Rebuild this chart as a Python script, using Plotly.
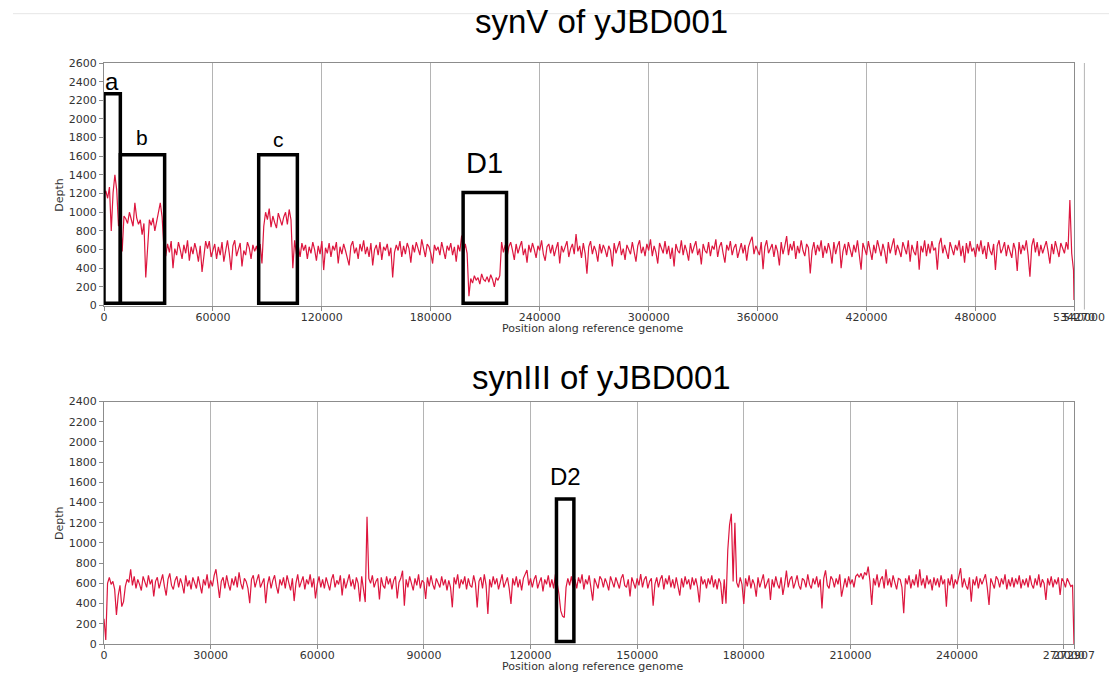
import plotly.graph_objects as go

# Chromosome lengths and coverage bin sizes (bp)
SYNV_LENGTH = 534270
SYNIII_LENGTH = 272907
SYNV_BIN = 1000
SYNIII_BIN = 500

# synV read depth, one value per 1 kb bin; last value is the chromosome end
synv_depth = [
    1180, 1230, 1150, 1270, 800, 1210, 1400, 1240, 850, 980,      # 0 kb
    580, 960, 930, 880, 1000, 920, 850, 1100, 940, 870,           # 10 kb
    920, 760, 880, 300, 650, 920, 860, 940, 800, 900,             # 20 kb
    1000, 1100, 950, 620, 530, 660, 570, 690, 400, 610,           # 30 kb
    540, 680, 600, 500, 650, 560, 700, 480, 630, 550,             # 40 kb
    670, 590, 470, 640, 360, 560, 690, 610, 690, 520,             # 50 kb
    600, 660, 500, 630, 540, 680, 470, 590, 700, 560,             # 60 kb
    380, 640, 700, 530, 610, 670, 420, 590, 540, 680,             # 70 kb
    620, 500, 650, 580, 640, 540, 660, 450, 850, 1000,            # 80 kb
    920, 1040, 840, 960, 890, 830, 990, 910, 860, 950,            # 90 kb
    1000, 870, 1030, 920, 400, 700, 550, 640, 520, 670,           # 100 kb
    590, 650, 500, 630, 560, 680, 600, 480, 640, 550,             # 110 kb
    690, 380, 620, 560, 670, 520, 640, 590, 680, 450,             # 120 kb
    630, 550, 660, 590, 510, 430, 640, 690, 560, 620,             # 130 kb
    500, 660, 580, 700, 550, 630, 520, 670, 430, 600,             # 140 kb
    650, 540, 680, 490, 630, 590, 660, 530, 620, 300,             # 150 kb
    570, 650, 590, 690, 520, 640, 550, 670, 610, 460,             # 160 kb
    650, 570, 680, 600, 540, 710, 590, 520, 660, 630,             # 170 kb
    560, 450, 650, 590, 630, 540, 680, 600, 500, 640,             # 180 kb
    590, 670, 540, 630, 470, 650, 580, 750, 560, 660,             # 190 kb
    560, 100, 290, 240, 320, 270, 300, 230, 340, 280,             # 200 kb
    260, 310, 250, 330, 280, 200, 300, 270, 320, 680,             # 210 kb
    570, 650, 520, 630, 680, 590, 490, 660, 560, 630,             # 220 kb
    690, 540, 610, 460, 650, 570, 670, 600, 510, 640,             # 230 kb
    590, 700, 550, 480, 630, 660, 560, 650, 530, 610,             # 240 kb
    680, 450, 640, 570, 630, 690, 520, 610, 660, 550,             # 250 kb
    767, 580, 640, 510, 670, 560, 340, 630, 690, 550,             # 260 kb
    640, 580, 470, 660, 560, 650, 600, 520, 640, 590,             # 270 kb
    418, 670, 560, 630, 690, 540, 610, 490, 650, 600,             # 280 kb
    550, 680, 590, 470, 640, 700, 560, 630, 530, 660,             # 290 kb
    590, 710, 530, 640, 570, 450, 670, 600, 560, 690,             # 300 kb
    550, 640, 500, 620, 418, 660, 590, 560, 700, 540,             # 310 kb
    650, 580, 480, 670, 560, 630, 690, 540, 610, 440,             # 320 kb
    660, 590, 560, 680, 530, 640, 600, 710, 520, 630,             # 330 kb
    680, 560, 460, 650, 590, 690, 540, 620, 660, 510,             # 340 kb
    610, 670, 560, 650, 480, 630, 690, 738, 550, 640,             # 350 kb
    590, 540, 680, 390, 630, 700, 560, 610, 660, 520,             # 360 kb
    650, 580, 430, 680, 550, 640, 745, 540, 660, 590,             # 370 kb
    690, 500, 640, 560, 700, 590, 530, 660, 620, 345,             # 380 kb
    590, 680, 540, 650, 580, 700, 510, 640, 560, 670,             # 390 kb
    590, 450, 680, 550, 640, 690, 400, 580, 660, 540,             # 400 kb
    680, 600, 520, 650, 570, 700, 560, 385, 670, 590,             # 410 kb
    540, 690, 580, 490, 650, 560, 700, 600, 530, 660,             # 420 kb
    580, 450, 680, 560, 640, 720, 540, 650, 590, 520,             # 430 kb
    680, 600, 550, 700, 470, 650, 580, 540, 690, 385,             # 440 kb
    640, 570, 700, 530, 660, 560, 690, 590, 620, 385,             # 450 kb
    660, 725, 560, 650, 580, 500, 680, 600, 540, 650,             # 460 kb
    590, 700, 530, 640, 460, 670, 560, 690, 580, 620,             # 470 kb
    520, 660, 580, 700, 550, 640, 500, 680, 590, 540,             # 480 kb
    660, 380, 640, 700, 560, 610, 680, 530, 650, 580,             # 490 kb
    510, 670, 600, 370, 680, 550, 650, 590, 700, 540,             # 500 kb
    309, 640, 720, 570, 680, 530, 650, 560, 630, 690,             # 510 kb
    580, 450, 660, 550, 690, 600, 520, 670, 610, 560,             # 520 kb
    680, 600, 1130, 560, 380,                                     # 530 kb
    60,                                                           # chromosome end
]

# synIII read depth, one value per 500 bp bin; last value is the chromosome end
syniii_depth = [
    250, 40, 600, 660, 590, 620, 540, 287, 480, 580,              # 0 kb
    370, 420, 570, 640, 610, 740, 580, 670, 550, 640,             # 5 kb
    590, 530, 670, 600, 560, 680, 590, 640, 470, 620,             # 10 kb
    660, 550, 620, 690, 570, 480, 640, 700, 580, 540,             # 15 kb
    630, 670, 560, 650, 590, 500, 680, 570, 630, 540,             # 20 kb
    660, 590, 550, 670, 600, 500, 640, 580, 690, 550,             # 25 kb
    630, 570, 680, 740, 600, 455, 620, 660, 550, 680,             # 30 kb
    590, 530, 650, 580, 670, 560, 710, 600, 540, 650,             # 35 kb
    620, 550, 405, 640, 680, 560, 630, 690, 560, 610,             # 40 kb
    650, 405, 590, 670, 550, 630, 680, 570, 500, 640,             # 45 kb
    580, 660, 550, 680, 590, 530, 650, 425, 600, 690,             # 50 kb
    560, 620, 670, 540, 640, 590, 690, 560, 650, 450,             # 55 kb
    590, 670, 560, 640, 550, 660, 600, 530, 640, 690,             # 60 kb
    560, 630, 590, 680, 480, 650, 550, 610, 690, 570,             # 65 kb
    640, 540, 660, 600, 420, 670, 560, 415, 1260, 650,            # 70 kb
    600, 680, 560, 620, 650, 440, 660, 580, 550, 670,             # 75 kb
    590, 650, 540, 630, 670, 450, 610, 650, 726, 380,             # 80 kb
    640, 560, 670, 590, 530, 650, 580, 690, 550, 630,             # 85 kb
    610, 445, 660, 570, 680, 590, 540, 650, 600, 560,             # 90 kb
    670, 580, 640, 530, 630, 560, 363, 660, 590, 690,             # 95 kb
    550, 640, 590, 670, 540, 650, 580, 560, 680, 600,             # 100 kb
    363, 620, 660, 550, 690, 580, 297, 640, 560, 670,             # 105 kb
    590, 650, 540, 630, 690, 560, 610, 660, 550, 396,             # 110 kb
    650, 580, 670, 560, 640, 530, 650, 690, 733, 580,             # 115 kb
    650, 560, 640, 680, 550, 610, 660, 520, 640, 590,             # 120 kb
    680, 560, 640, 550, 690, 600, 495, 330, 275, 262,             # 125 kb
    560, 650, 580, 670, 560, 640, 550, 660, 600, 690,             # 130 kb
    540, 640, 590, 680, 560, 430, 650, 590, 550, 670,             # 135 kb
    640, 560, 650, 600, 530, 670, 620, 560, 660, 590,             # 140 kb
    550, 650, 690, 580, 560, 640, 470, 660, 590, 550,             # 145 kb
    650, 580, 693, 560, 640, 670, 550, 620, 650, 380,             # 150 kb
    590, 660, 560, 640, 680, 540, 650, 590, 680, 560,             # 155 kb
    640, 550, 660, 580, 480, 650, 560, 670, 590, 640,             # 160 kb
    540, 660, 580, 650, 560, 412, 670, 590, 640, 550,             # 165 kb
    650, 590, 680, 560, 640, 540, 650, 600, 396, 640,             # 170 kb
    400, 930, 1180, 1290, 620, 1200, 610, 560, 660, 590,          # 175 kb
    396, 650, 570, 680, 550, 640, 590, 469, 660, 560,             # 180 kb
    640, 690, 550, 600, 650, 436, 640, 560, 670, 590,             # 185 kb
    550, 660, 485, 590, 726, 560, 640, 670, 550, 610,             # 190 kb
    680, 580, 540, 650, 630, 560, 690, 590, 550, 650,             # 195 kb
    590, 670, 560, 640, 353, 650, 730, 580, 550, 670,             # 200 kb
    640, 560, 650, 590, 690, 469, 580, 650, 560, 670,             # 205 kb
    590, 640, 560, 670, 690, 660, 700, 640, 710, 680,             # 210 kb
    766, 620, 386, 650, 580, 690, 560, 640, 670, 550,             # 215 kb
    740, 580, 650, 560, 680, 600, 540, 650, 640, 560,             # 220 kb
    304, 650, 590, 680, 550, 640, 580, 690, 560, 740,             # 225 kb
    580, 650, 550, 680, 590, 640, 530, 660, 580, 650,             # 230 kb
    560, 680, 590, 640, 370, 650, 580, 690, 550, 640,             # 235 kb
    590, 670, 750, 560, 650, 580, 540, 660, 419, 640,             # 240 kb
    580, 670, 550, 650, 590, 640, 690, 560, 386, 650,             # 245 kb
    590, 550, 670, 640, 560, 650, 590, 690, 540, 640,             # 250 kb
    570, 660, 560, 650, 590, 680, 550, 640, 580, 650,             # 255 kb
    560, 680, 590, 550, 650, 580, 690, 560, 640, 600,             # 260 kb
    436, 650, 580, 670, 560, 640, 590, 660, 485, 650,             # 265 kb
    620, 560, 650, 600, 570, 584,                                 # 270 kb
    0,                                                            # chromosome end
]

synv_pos = [i * SYNV_BIN for i in range(len(synv_depth) - 1)] + [SYNV_LENGTH]
syniii_pos = [i * SYNIII_BIN for i in range(len(syniii_depth) - 1)] + [SYNIII_LENGTH]

# Axis ticks
synv_ticks = [0, 60000, 120000, 180000, 240000, 300000, 360000, 420000, 480000, SYNV_LENGTH]
synv_next_tick = 540000
syniii_ticks = [0, 30000, 60000, 90000, 120000, 150000, 180000, 210000, 240000, 270000, SYNIII_LENGTH]

# Highlighted regions: label, start, end, box height
synv_regions = [
    ("a", 0, 9000, 2270),
    ("b", 9000, 33400, 1616),
    ("c", 85200, 106500, 1616),
    ("D1", 197800, 221700, 1212),
]
syniii_regions = [
    ("D2", 127300, 132200, 1436),
]

# ---------------------------------------------------------------- layout
W, H = 1109, 686
PL, PR, PT, PB = 104, 1074, 63.3, 644  # plot area in pixels
TOP_PANEL = (63.3, 305.7)
BOTTOM_PANEL = (401.7, 644)


def px(p):
    return (p - PL) / (PR - PL)


def py(p):
    return (PB - p) / (PB - PT)


RED = "rgb(221,22,62)"
FRAME = "#8c8c8c"
GRID = "#b4b4b4"
TICK_FONT = dict(family="DejaVu Sans", size=11, color="#333333")
LABEL_FONT = "Liberation Sans, Arial, sans-serif"

fig = go.Figure()
fig.add_trace(go.Scatter(x=synv_pos, y=synv_depth, mode="lines",
                         line=dict(color=RED, width=1.2), hoverinfo="skip",
                         xaxis="x", yaxis="y"))
fig.add_trace(go.Scatter(x=syniii_pos, y=syniii_depth, mode="lines",
                         line=dict(color=RED, width=1.2), hoverinfo="skip",
                         xaxis="x2", yaxis="y2"))

axis_common = dict(showline=True, linecolor=FRAME, linewidth=1, mirror=True,
                   ticks="outside", ticklen=4, tickcolor=FRAME, tickwidth=1,
                   tickfont=TICK_FONT, zeroline=False, fixedrange=True,
                   automargin=False)

fig.update_layout(
    template="none",
    width=W, height=H,
    margin=dict(l=PL, r=W - PR, t=PT, b=H - PB, pad=0),
    paper_bgcolor="white", plot_bgcolor="white",
    showlegend=False,
    xaxis=dict(domain=[0, 1], anchor="y", range=[0, SYNV_LENGTH],
               tickmode="array", tickvals=synv_ticks,
               ticktext=[str(v) for v in synv_ticks], tickangle=0,
               ticklabelstandoff=-3,
               showgrid=True, gridcolor=GRID, gridwidth=1, **axis_common),
    yaxis=dict(domain=[py(TOP_PANEL[1]), py(TOP_PANEL[0])], anchor="x",
               range=[0, 2600], tick0=0, dtick=200, showgrid=False, **axis_common),
    xaxis2=dict(domain=[0, 1], anchor="y2", range=[0, SYNIII_LENGTH],
                tickmode="array", tickvals=syniii_ticks,
                ticktext=[str(v) for v in syniii_ticks], tickangle=0,
                ticklabelstandoff=-3,
                showgrid=True, gridcolor=GRID, gridwidth=1, **axis_common),
    yaxis2=dict(domain=[py(BOTTOM_PANEL[1]), py(BOTTOM_PANEL[0])], anchor="x2",
                range=[0, 2400], tick0=0, dtick=200, showgrid=False, **axis_common),
)

shapes = []
annotations = []

# faint rule across the top of the page
shapes.append(dict(type="line", xref="paper", yref="paper",
                   x0=px(13), x1=px(W), y0=py(14), y1=py(14),
                   line=dict(color="#e6e6e6", width=1)))

# grid line and tick for the next round position past the synV end
xn = synv_next_tick / SYNV_LENGTH
shapes.append(dict(type="line", xref="paper", yref="paper",
                   x0=xn, x1=xn, y0=py(TOP_PANEL[1] + 4), y1=py(TOP_PANEL[0]),
                   line=dict(color=GRID, width=1)))
annotations.append(dict(xref="paper", yref="paper", x=xn, y=py(TOP_PANEL[1] + 11.5),
                        text=str(synv_next_tick), showarrow=False,
                        xanchor="center", yanchor="middle", font=TICK_FONT))

# region boxes and their labels
label_style = {"a": (24, 2400), "b": (21, 1800), "c": (21, 1780),
               "D1": (29, 1530), "D2": (24, 1660)}
for regions, xr, yr in ((synv_regions, "x", "y"), (syniii_regions, "x2", "y2")):
    for name, start, end, top in regions:
        shapes.append(dict(type="rect", xref=xr, yref=yr,
                           x0=start, x1=end, y0=25, y1=top,
                           line=dict(color="black", width=3.5),
                           fillcolor="rgba(0,0,0,0)"))
        size, ly = label_style[name]
        annotations.append(dict(xref=xr, yref=yr, x=(start + end) / 2, y=ly,
                                text=name, showarrow=False,
                                xanchor="center", yanchor="middle",
                                font=dict(family=LABEL_FONT, size=size, color="black")))

# panel titles
for title, yc in (("synV of yJBD001", 22), ("synIII of yJBD001", 378)):
    annotations.append(dict(xref="paper", yref="paper", x=px(601), y=py(yc),
                            text=title, showarrow=False,
                            xanchor="center", yanchor="middle",
                            font=dict(family=LABEL_FONT, size=33, color="black")))

# axis titles
for yc in (195, 523):
    annotations.append(dict(xref="paper", yref="paper", x=px(60), y=py(yc),
                            text="Depth", textangle=-90, showarrow=False,
                            xanchor="center", yanchor="middle",
                            font=dict(family="DejaVu Sans", size=11, color="#333333")))
for yc in (329, 666):
    annotations.append(dict(xref="paper", yref="paper", x=px(592), y=py(yc),
                            text="Position along reference genome", showarrow=False,
                            xanchor="center", yanchor="middle",
                            font=dict(family="DejaVu Sans", size=11, color="#333333")))

fig.update_layout(shapes=shapes, annotations=annotations)

fig.write_html("out.html", config={"displayModeBar": False, "staticPlot": True})
